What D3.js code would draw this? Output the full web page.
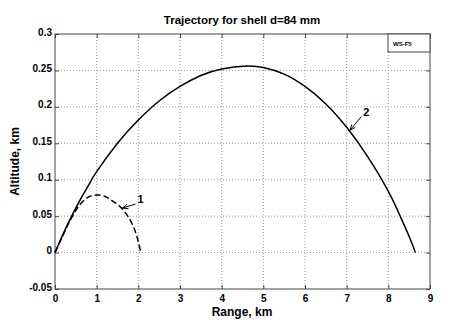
<html>
<head>
<meta charset="utf-8">
<title>Trajectory for shell d=84 mm</title>
<style>
body { margin: 0; background: #fff; }
text { font-family: "Liberation Sans", Arial, sans-serif; font-weight: bold; fill: #000; }
</style>
</head>
<body>
<script src="https://cdn.jsdelivr.net/npm/d3@7"></script>
<script>
var width = 449;
var height = 324;

// data (range km, altitude km)
var range2 = [0, 0.2, 0.4, 0.6, 0.8, 1.0, 1.5, 2.0, 2.5, 3.0, 3.5, 4.0, 4.6, 5.0, 5.5, 6.0, 6.5, 7.0, 7.5, 8.0, 8.3, 8.5, 8.65];
var alt2   = [0, 0.026, 0.05, 0.072, 0.092, 0.111, 0.15, 0.182, 0.208, 0.228, 0.243, 0.252, 0.256, 0.254, 0.245, 0.228, 0.204, 0.172, 0.132, 0.084, 0.048, 0.022, 0];
var range1 = [0, 0.2, 0.4, 0.6, 0.8, 1.0, 1.2, 1.4, 1.6, 1.8, 1.95, 2.06];
var alt1   = [0, 0.025, 0.048, 0.066, 0.076, 0.079, 0.077, 0.07, 0.061, 0.045, 0.025, 0];
var xTicks = [0, 1, 2, 3, 4, 5, 6, 7, 8, 9];
var yTicks = [-0.05, 0, 0.05, 0.1, 0.15, 0.2, 0.25, 0.3];
var yTickLabels = ["-0.05", "0", "0.05", "0.1", "0.15", "0.2", "0.25", "0.3"];

var pLeft = 55, pRight = 430, pTop = 34, pBottom = 289;

var svg = d3.select("body").append("svg")
	.attr("width", width)
	.attr("height", height);

var x = d3.scaleLinear().domain([0, 9]).range([pLeft, pRight]);
var y = d3.scaleLinear().domain([-0.05, 0.3]).range([pBottom, pTop]);

// grid
svg.append("g").selectAll("line").data(xTicks.slice(1, -1)).enter().append("line")
	.attr("x1", d => x(d)).attr("x2", d => x(d))
	.attr("y1", pTop).attr("y2", pBottom)
	.attr("stroke", "#999").attr("stroke-width", 1).attr("stroke-dasharray", "1,2");
svg.append("g").selectAll("line").data(yTicks.slice(1, -1)).enter().append("line")
	.attr("x1", pLeft).attr("x2", pRight)
	.attr("y1", d => y(d)).attr("y2", d => y(d))
	.attr("stroke", "#999").attr("stroke-width", 1).attr("stroke-dasharray", "1,2");

// axes (ticks inside, matlab style)
var xAxis = d3.axisBottom(x).tickValues(xTicks).tickSize(-4).tickPadding(5);
var yAxis = d3.axisLeft(y).tickValues(yTicks).tickSize(-4).tickPadding(4)
	.tickFormat((d, i) => yTickLabels[i]);
var gx = svg.append("g").attr("transform", "translate(0," + pBottom + ")").call(xAxis);
var gy = svg.append("g").attr("transform", "translate(" + pLeft + ",0)").call(yAxis);
var gx2 = svg.append("g").attr("transform", "translate(0," + pTop + ")")
	.call(d3.axisTop(x).tickValues(xTicks).tickSize(-4).tickFormat(""));
var gy2 = svg.append("g").attr("transform", "translate(" + pRight + ",0)")
	.call(d3.axisRight(y).tickValues(yTicks).tickSize(-4).tickFormat(""));
[gx, gy, gx2, gy2].forEach(function(g) {
	g.select(".domain").remove();
	g.selectAll("line").attr("stroke", "#444");
	g.selectAll("text").style("font-size", "10px").style("font-weight", "bold")
		.style("font-family", "'Liberation Sans', Arial, sans-serif");
});
gx.selectAll("text").attr("y", 5).attr("dy", "0.75em");
gy.selectAll("text").attr("x", -3).attr("dy", "0.1em");

// box
svg.append("rect")
	.attr("x", pLeft).attr("y", pTop)
	.attr("width", pRight - pLeft).attr("height", pBottom - pTop)
	.attr("fill", "none").attr("stroke", "#444").attr("stroke-width", 1);

var line = d3.line().x(d => x(d[0])).y(d => y(d[1])).curve(d3.curveNatural);

svg.append("path")
	.datum(d3.zip(range2, alt2))
	.attr("d", line)
	.attr("fill", "none").attr("stroke", "#000").attr("stroke-width", 1.5);

svg.append("path")
	.datum(d3.zip(range1, alt1))
	.attr("d", line)
	.attr("fill", "none").attr("stroke", "#000").attr("stroke-width", 1.5)
	.attr("stroke-dasharray", "6,3");

// curve labels with arrows
function label(tx, ty, ax, ay, str) {
	svg.append("text").attr("x", x(tx)).attr("y", y(ty))
		.style("font-size", "11px").text(str);
	var x0 = x(tx) - 2, y0 = y(ty) + 1;
	var x1 = x(ax), y1 = y(ay);
	svg.append("line").attr("x1", x0).attr("y1", y0).attr("x2", x1).attr("y2", y1)
		.attr("stroke", "#000").attr("stroke-width", 1);
	var ang = Math.atan2(y1 - y0, x1 - x0);
	var s = 6, w = 0.4;
	svg.append("path")
		.attr("d", "M" + x1 + "," + y1 +
			"L" + (x1 - s * Math.cos(ang - w)) + "," + (y1 - s * Math.sin(ang - w)) +
			"M" + x1 + "," + y1 +
			"L" + (x1 - s * Math.cos(ang + w)) + "," + (y1 - s * Math.sin(ang + w)))
		.attr("fill", "none").attr("stroke", "#000").attr("stroke-width", 1);
}
label(1.98, 0.068, 1.62, 0.061, "1");
label(7.4, 0.188, 7.08, 0.168, "2");

// legend box
svg.append("rect")
	.attr("x", 388).attr("y", pTop).attr("width", 42).attr("height", 18)
	.attr("fill", "#fff").attr("stroke", "#444").attr("stroke-width", 1);
svg.append("text").attr("x", 393).attr("y", 46)
	.style("font-size", "6px").text("WS-F5");

// titles
svg.append("text").attr("x", 242).attr("y", 24).attr("text-anchor", "middle")
	.style("font-size", "11.5px").text("Trajectory for shell d=84 mm");
svg.append("text").attr("x", 242).attr("y", 316).attr("text-anchor", "middle")
	.style("font-size", "12px").text("Range, km");
svg.append("text").attr("transform", "translate(19," + ((pTop + pBottom) / 2) + ") rotate(-90)")
	.attr("text-anchor", "middle")
	.style("font-size", "12px").text("Altitude, km");
</script>
</body>
</html>
